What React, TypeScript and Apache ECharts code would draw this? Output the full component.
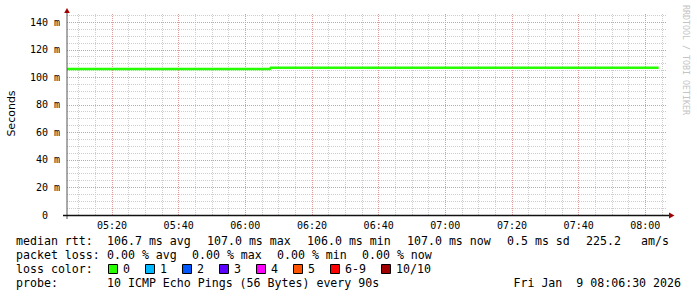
import React, { useEffect, useRef } from "react";
import * as echarts from "echarts";

// ---- data ----
const startTime = "05:06:30";
const endTime = "08:06:30";
const medianTimes = ["05:06:30", "06:07:30", "08:04:00"];
const medianValues = [106.0, 107.0, 107.0];
const yMaxValue = 146;
const yMajorTicks = [20, 40, 60, 80, 100, 120, 140];

const rttLabels = ["avg", "max", "min", "now"];
const rttValues = [106.7, 107.0, 106.0, 107.0];
const rttSd = 0.5;
const amPerSec = 225.2;
const lossLabels = ["avg", "max", "min", "now"];
const lossValues = [0.0, 0.0, 0.0, 0.0];
const lossColorLabels = ["0", "1", "2", "3", "4", "5", "6-9", "10/10"];
const lossColors = ["#26ff00", "#00b8ff", "#0059ff", "#5e00ff", "#ff00ff", "#ff5500", "#ff0000", "#a10000"];
const probeText = "10 ICMP Echo Pings (56 Bytes) every 90s";
const dateText = "Fri Jan  9 08:06:30 2026";
const yAxisTitle = "Seconds";
const sideText = "RRDTOOL / TOBI OETIKER";

// ---- helpers ----
const toMin = (t: string) => {
  const [h, m, s] = t.split(":").map(Number);
  return h * 60 + m + (s || 0) / 60;
};
const fmtTime = (v: number) => {
  const h = Math.floor(v / 60);
  const m = Math.round(v - h * 60);
  return String(h).padStart(2, "0") + ":" + String(m).padStart(2, "0");
};
const nb = (s: string) => s.replace(/ /g, "\u00a0");
const MONO = '"DejaVu Sans Mono", monospace';
const LF = 11.6;

const txt = (text: string, x: number, y: number, extra: any = {}) => ({
  type: "text",
  x,
  y,
  silent: true,
  style: {
    text: nb(text),
    fontFamily: MONO,
    fontSize: LF,
    fill: "#000",
    textVerticalAlign: "middle",
    verticalAlign: "middle",
    ...extra,
  },
});

const xMin = toMin(startTime);
const xMax = toMin(endTime);
const MAJOR = "#e09a9a";
const MINOR = "#cdcdcd";

function buildOption() {
  const rows = [241, 255, 269, 283];
  const g: any[] = [];
  // axis lines and arrows
  g.push({ type: "line", silent: true, z: 10, shape: { x1: 67, y1: 219, x2: 67, y2: 12 }, style: { stroke: "#555", lineWidth: 1 } });
  g.push({ type: "line", silent: true, z: 10, shape: { x1: 63, y1: 215.5, x2: 670, y2: 215.5 }, style: { stroke: "#111", lineWidth: 1.5 } });
  g.push({ type: "polygon", silent: true, z: 10, shape: { points: [[64.2, 13], [69.8, 13], [67, 8]] }, style: { fill: "#a00000" } });
  g.push({ type: "polygon", silent: true, z: 10, shape: { points: [[669, 212.5], [669, 218.5], [674.5, 215.5]] }, style: { fill: "#a00000" } });
  // titles
  g.push({
    type: "text", x: 11, y: 113.5, rotation: Math.PI / 2, silent: true,
    style: { text: yAxisTitle, fontFamily: '"DejaVu Sans", sans-serif', fontSize: 11, fill: "#000", textAlign: "center", align: "center", textVerticalAlign: "middle", verticalAlign: "middle" },
  });
  g.push({
    type: "text", x: 686, y: 5, rotation: -Math.PI / 2, silent: true,
    style: { text: nb(sideText), fontFamily: MONO, fontSize: 8.3, fill: "#c4c4c4", textAlign: "left", align: "left", textVerticalAlign: "middle", verticalAlign: "middle" },
  });
  // row 1
  g.push(txt("median rtt:", 16, rows[0]));
  const rttX = [107, 207, 307, 407];
  rttValues.forEach((v, i) => g.push(txt(v.toFixed(1) + " ms " + rttLabels[i], rttX[i], rows[0])));
  g.push(txt(rttSd.toFixed(1) + " ms sd", 507, rows[0]));
  g.push(txt(amPerSec.toFixed(1), 586, rows[0]));
  g.push(txt("am/s", 641, rows[0]));
  // row 2
  g.push(txt("packet loss:", 16, rows[1]));
  const lossX = [107, 192, 277, 362];
  lossValues.forEach((v, i) => g.push(txt(v.toFixed(2) + " % " + lossLabels[i], lossX[i], rows[1])));
  // row 3
  g.push(txt("loss color:", 16, rows[2]));
  let bx = 108;
  lossColorLabels.forEach((lab, i) => {
    g.push({ type: "rect", silent: true, shape: { x: bx + 0.5, y: 264.5, width: 9, height: 9 }, style: { fill: lossColors[i], stroke: "#000", lineWidth: 1 } });
    g.push(txt(lab, bx + 15, rows[2]));
    bx += 15 + lab.length * 7 + 15;
  });
  // row 4
  g.push(txt("probe:", 16, rows[3]));
  g.push(txt(probeText, 107, rows[3]));
  g.push(txt(dateText, 681, rows[3], { textAlign: "right", align: "right" }));

  const data = medianTimes.map((t, i) => [toMin(t), medianValues[i]]);

  const hidden = { axisLine: { show: false }, axisTick: { show: false } };

  return {
    animation: false,
    backgroundColor: "#fff",
    grid: { left: 67, top: 14, width: 600, height: 201, containLabel: false },
    xAxis: [
      {
        type: "value", gridIndex: 0, position: "bottom", offset: 0, min: xMin, max: xMax, minInterval: 5, maxInterval: 5, splitNumber: 36, z: 0,
        ...hidden, axisLabel: { show: false },
        splitLine: { show: true, showMinLine: false, showMaxLine: false, lineStyle: { color: MINOR, width: 1, type: [1, 1] } },
      },
      {
        type: "value", gridIndex: 0, position: "bottom", offset: 0, min: xMin, max: xMax, minInterval: 20, maxInterval: 20, splitNumber: 9, z: 2,
        ...hidden,
        axisLabel: { show: true, formatter: (v: number) => fmtTime(v), showMinLabel: false, showMaxLabel: false, fontFamily: MONO, fontSize: 10, color: "#000", margin: 5 },
        splitLine: { show: true, showMinLine: false, showMaxLine: false, lineStyle: { color: MAJOR, width: 1, type: [1, 1] } },
      },
    ],
    yAxis: [
      {
        type: "value", gridIndex: 0, position: "left", offset: 0, min: 0, max: yMaxValue, interval: 5, z: 0,
        ...hidden, axisLabel: { show: false },
        splitLine: { show: true, showMinLine: false, showMaxLine: false, lineStyle: { color: MINOR, width: 1, type: [1, 1] } },
      },
      {
        type: "value", gridIndex: 0, position: "left", offset: 0, min: 0, max: yMaxValue, interval: 20, z: 2,
        ...hidden,
        axisLabel: {
          show: true, showMaxLabel: false, fontFamily: MONO, fontSize: 10, color: "#000", margin: 7,
          formatter: (v: number) => (v === 0 ? "0\u00a0\u00a0" : v + "\u00a0m"),
        },
        splitLine: { show: true, showMinLine: false, showMaxLine: false, lineStyle: { color: MAJOR, width: 1, type: [1, 1] } },
      },
    ],
    series: [
      {
        type: "line", xAxisIndex: 1, yAxisIndex: 1, step: "end", symbol: "none", z: 5,
        lineStyle: { color: "#26ff00", width: 2.5 },
        data,
        markLine: {
          silent: true,
          symbol: ["none", "none"],
          label: { show: false },
          z: 3,
          lineStyle: { color: MAJOR, width: 1, type: [1, 1] },
          data: yMajorTicks.map((v) => ({ yAxis: v })),
        },
      },
    ],
    graphic: g,
  };
}

export default function App() {
  const ref = useRef<HTMLDivElement>(null);
  useEffect(() => {
    const chart = echarts.init(ref.current!, undefined, { renderer: "svg", width: 697, height: 297 });
    chart.setOption(buildOption() as any);
    return () => chart.dispose();
  }, []);
  return (
    <div
      ref={ref}
      style={{ position: "fixed", left: 0, top: 0, width: 697, height: 297, background: "#fff" }}
    />
  );
}
